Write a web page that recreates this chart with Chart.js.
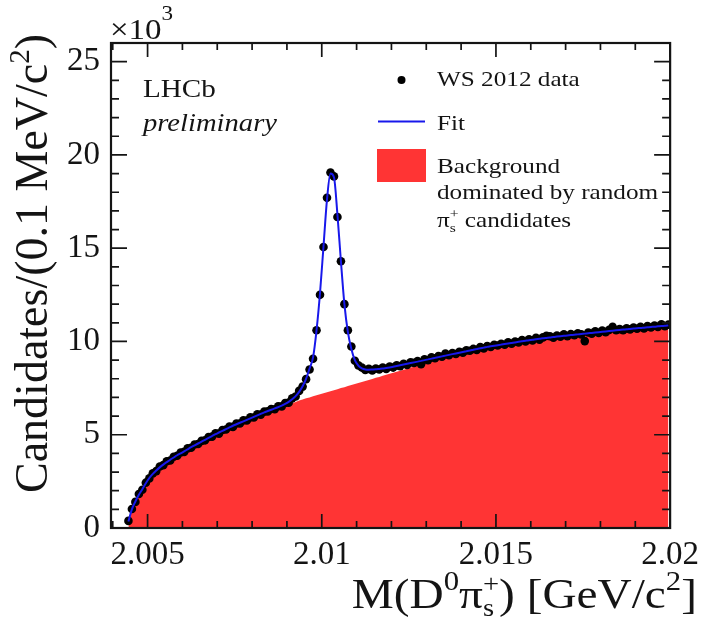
<!DOCTYPE html>
<html>
<head>
<meta charset="utf-8">
<script src="https://cdn.jsdelivr.net/npm/chart.js@4.4.1/dist/chart.umd.min.js"></script>
<style>
html, body { margin: 0; padding: 0; background: #fff; }
canvas { display: block; }
</style>
</head>
<body>
<canvas id="mass_chart" width="707" height="619"></canvas>
<script>
// histogram binning of M(D0 pi+s), GeV/c2
const binStart = 2.00445
const binWidth = 0.0001

// WS 2012 data, candidates per bin (x10^3)
const candidates = [
  0.38, 1.02, 1.40, 1.82, 2.05, 2.43, 2.66, 2.93, 3.05, 3.30,
  3.37, 3.58, 3.62, 3.82, 3.87, 4.05, 4.08, 4.27, 4.30, 4.48,
  4.50, 4.67, 4.70, 4.88, 4.90, 5.08, 5.06, 5.25, 5.28, 5.44,
  5.42, 5.60, 5.60, 5.77, 5.76, 5.93, 5.92, 6.10, 6.08, 6.24,
  6.25, 6.38, 6.37, 6.53, 6.52, 6.70, 6.72, 6.95, 7.05, 7.35,
  7.58, 7.98, 8.50, 9.07, 10.6, 12.5, 15.06, 17.7, 19.06, 18.85,
  16.67, 14.3, 12.0, 10.6, 9.73, 8.97, 8.72, 8.60, 8.47, 8.53,
  8.45, 8.55, 8.50, 8.60, 8.53, 8.66, 8.60, 8.72, 8.68, 8.80,
  8.74, 8.88, 8.85, 8.95, 8.78, 9.05, 9.00, 9.15, 9.10, 9.22,
  9.18, 9.35, 9.26, 9.38, 9.33, 9.45, 9.40, 9.52, 9.50, 9.60,
  9.55, 9.70, 9.63, 9.76, 9.70, 9.82, 9.78, 9.88, 9.82, 9.95,
  9.88, 10.0, 9.95, 10.08, 10.0, 10.12, 10.05, 10.2, 10.1, 10.22,
  10.3, 10.28, 10.2, 10.32, 10.25, 10.38, 10.28, 10.4, 10.33, 10.44,
  10.38, 10.02, 10.48, 10.42, 10.55, 10.45, 10.58, 10.5, 10.62, 10.78,
  10.6, 10.66, 10.6, 10.7, 10.65, 10.74, 10.68, 10.78, 10.7, 10.82,
  10.75, 10.85, 10.78, 10.92, 10.82, 10.9
]

// total fit
const fitCurve = [
  0.35, 1.00, 1.42, 1.78, 2.08, 2.40, 2.68, 2.90, 3.08, 3.25,
  3.40, 3.53, 3.66, 3.78, 3.90, 4.00, 4.11, 4.22, 4.33, 4.43,
  4.53, 4.63, 4.73, 4.83, 4.93, 5.03, 5.12, 5.21, 5.30, 5.39,
  5.48, 5.56, 5.64, 5.72, 5.80, 5.88, 5.96, 6.04, 6.12, 6.20,
  6.27, 6.34, 6.41, 6.48, 6.56, 6.65, 6.76, 6.90, 7.07, 7.30,
  7.60, 8.00, 8.55, 9.15, 10.6, 12.6, 15.1, 17.6, 19.0, 18.8,
  16.8, 14.3, 12.0, 10.5, 9.60, 9.00, 8.70, 8.56, 8.50, 8.49,
  8.50, 8.51, 8.53, 8.55, 8.58, 8.61, 8.64, 8.68, 8.72, 8.76,
  8.80, 8.84, 8.88, 8.92, 8.96, 9.00, 9.04, 9.08, 9.12, 9.16,
  9.20, 9.24, 9.28, 9.32, 9.36, 9.40, 9.44, 9.48, 9.52, 9.56,
  9.60, 9.64, 9.67, 9.71, 9.74, 9.77, 9.80, 9.83, 9.86, 9.89,
  9.92, 9.95, 9.98, 10.01, 10.04, 10.07, 10.09, 10.12, 10.14, 10.17,
  10.19, 10.21, 10.24, 10.26, 10.28, 10.30, 10.32, 10.34, 10.36, 10.38,
  10.40, 10.42, 10.44, 10.46, 10.48, 10.50, 10.52, 10.54, 10.56, 10.58,
  10.60, 10.62, 10.64, 10.65, 10.67, 10.69, 10.71, 10.72, 10.74, 10.76,
  10.78, 10.79, 10.81, 10.83, 10.84, 10.86
]

// background component (random pi+s)
const backgroundCurve = [
  0.30, 0.95, 1.36, 1.72, 2.02, 2.34, 2.62, 2.84, 3.02, 3.19,
  3.34, 3.47, 3.60, 3.72, 3.84, 3.95, 4.06, 4.17, 4.28, 4.38,
  4.48, 4.58, 4.68, 4.78, 4.88, 4.97, 5.06, 5.15, 5.24, 5.33,
  5.42, 5.50, 5.58, 5.66, 5.74, 5.82, 5.90, 5.98, 6.06, 6.13,
  6.20, 6.27, 6.34, 6.41, 6.48, 6.55, 6.62, 6.69, 6.76, 6.83,
  6.89, 6.95, 7.00, 7.06, 7.11, 7.17, 7.22, 7.28, 7.33, 7.39,
  7.44, 7.50, 7.55, 7.61, 7.66, 7.72, 7.77, 7.83, 7.88, 7.94,
  7.99, 8.05, 8.10, 8.16, 8.21, 8.27, 8.32, 8.38, 8.43, 8.49,
  8.54, 8.60, 8.65, 8.71, 8.76, 8.82, 8.87, 8.93, 8.98, 9.04,
  9.09, 9.15, 9.21, 9.26, 9.30, 9.34, 9.38, 9.42, 9.46, 9.50,
  9.54, 9.58, 9.61, 9.65, 9.68, 9.71, 9.74, 9.77, 9.80, 9.83,
  9.86, 9.89, 9.92, 9.95, 9.98, 10.01, 10.03, 10.06, 10.08, 10.11,
  10.13, 10.15, 10.18, 10.20, 10.22, 10.24, 10.26, 10.28, 10.30, 10.32,
  10.34, 10.36, 10.38, 10.40, 10.42, 10.44, 10.46, 10.48, 10.50, 10.52,
  10.54, 10.56, 10.58, 10.59, 10.61, 10.63, 10.65, 10.66, 10.68, 10.70,
  10.72, 10.73, 10.75, 10.77, 10.78, 10.80
]

const xTickLabels = [2.005, 2.01, 2.015, 2.02]
const xMinorTicks = [2.004, 2.006, 2.007, 2.008, 2.009, 2.011, 2.012, 2.013, 2.014, 2.016, 2.017, 2.018, 2.019]
const yTickLabels = [0, 5, 10, 15, 20, 25]
const yMinorTicks = [1, 2, 3, 4, 6, 7, 8, 9, 11, 12, 13, 14, 16, 17, 18, 19, 21, 22, 23, 24, 26]

const SERIF = '"Liberation Serif", "Times New Roman", serif'
const INK = '#141414'
const RED = 'rgb(255, 52, 52)'
const BLUE = 'rgb(24, 24, 235)'

function toPoints(values) {
    return values.map((v, i) => ({x: binStart + i * binWidth, y: v}))
}

// draws a run of text pieces; a piece may be {t}, or {sup, sub} stacked
function richText(ctx, parts, x, y, opts = {}) {
    const sx = opts.sx || 1
    ctx.save()
    ctx.translate(x, y)
    if (opts.rotate) ctx.rotate(opts.rotate)
    ctx.scale(sx, 1)
    ctx.fillStyle = INK
    ctx.textBaseline = 'alphabetic'
    ctx.textAlign = 'left'
    const widths = parts.map(p => {
        if (p.t !== undefined) {
            ctx.font = (p.italic ? 'italic ' : '') + p.size + 'px ' + SERIF
            return ctx.measureText(p.t).width
        }
        ctx.font = p.size + 'px ' + SERIF
        return Math.max(ctx.measureText(p.sup || '').width, ctx.measureText(p.sub || '').width)
    })
    const total = widths.reduce((a, b) => a + b, 0)
    let cx = opts.align === 'right' ? -total : 0
    parts.forEach((p, k) => {
        if (p.t !== undefined) {
            ctx.font = (p.italic ? 'italic ' : '') + p.size + 'px ' + SERIF
            ctx.fillText(p.t, cx, p.dy || 0)
        } else {
            ctx.font = p.size + 'px ' + SERIF
            if (p.sup) ctx.fillText(p.sup, cx, p.supDy)
            if (p.sub) ctx.fillText(p.sub, cx, p.subDy)
        }
        cx += widths[k]
    })
    ctx.restore()
}

const framePlugin = {
    id: 'frame_and_labels',
    afterDraw(chart) {
        const ctx = chart.ctx
        const a = chart.chartArea
        const xs = chart.scales.x
        const ys = chart.scales.y
        ctx.save()
        ctx.strokeStyle = INK
        ctx.lineWidth = 1.7
        ctx.beginPath()
        const tick = (x1, y1, x2, y2) => { ctx.moveTo(x1, y1); ctx.lineTo(x2, y2) }
        xTickLabels.forEach(v => {
            const px = xs.getPixelForValue(v)
            tick(px, a.bottom, px, a.bottom - 14)
            tick(px, a.top, px, a.top + 14)
        })
        xMinorTicks.forEach(v => {
            const px = xs.getPixelForValue(v)
            tick(px, a.bottom, px, a.bottom - 7)
            tick(px, a.top, px, a.top + 7)
        })
        yTickLabels.forEach(v => {
            const py = ys.getPixelForValue(v)
            tick(a.left, py, a.left + 16, py)
            tick(a.right, py, a.right - 16, py)
        })
        yMinorTicks.forEach(v => {
            const py = ys.getPixelForValue(v)
            tick(a.left, py, a.left + 8, py)
            tick(a.right, py, a.right - 8, py)
        })
        ctx.stroke()
        ctx.lineWidth = 2.2
        ctx.strokeRect(a.left, a.top, a.right - a.left, a.bottom - a.top)
        ctx.restore()

        // exponent
        richText(ctx, [{t: '\u00d710', size: 30}, {t: '3', size: 21, dy: -19}], 110, 39, {sx: 1.1})

        // axis titles
        richText(ctx, [
            {t: 'M', size: 43}, {t: '(', size: 43}, {t: 'D', size: 43}, {t: '0', size: 28, dy: -18},
            {t: '\u03c0', size: 43}, {sup: '+', sub: 's', size: 26, supDy: -16, subDy: 8},
            {t: ') [GeV/c', size: 43}, {t: '2', size: 28, dy: -18}, {t: ']', size: 43}
        ], 697, 608, {sx: 1.1, align: 'right'})
        richText(ctx, [
            {t: 'Candidates/(0.1 MeV/c', size: 46}, {t: '2', size: 29, dy: -18}, {t: ')', size: 46}
        ], 47, 493, {rotate: -Math.PI / 2})

        // LHCb label
        richText(ctx, [{t: 'LHCb', size: 26}], 143, 97, {sx: 1.12})
        richText(ctx, [{t: 'preliminary', size: 26, italic: true}], 143, 131, {sx: 1.1})

        // legend
        ctx.save()
        ctx.fillStyle = '#000'
        ctx.beginPath()
        ctx.arc(401.5, 80, 4, 0, Math.PI * 2)
        ctx.fill()
        ctx.strokeStyle = BLUE
        ctx.lineWidth = 2
        ctx.beginPath()
        ctx.moveTo(378, 121.5)
        ctx.lineTo(425, 121.5)
        ctx.stroke()
        ctx.fillStyle = RED
        ctx.fillRect(377, 149, 49, 33)
        ctx.restore()
        const ls = 21
        richText(ctx, [{t: 'WS 2012 data', size: ls}], 437, 86, {sx: 1.2})
        richText(ctx, [{t: 'Fit', size: ls}], 437, 130, {sx: 1.2})
        richText(ctx, [{t: 'Background', size: ls}], 437, 173, {sx: 1.2})
        richText(ctx, [{t: 'dominated by random', size: ls}], 437, 199, {sx: 1.2})
        richText(ctx, [
            {t: '\u03c0', size: ls}, {sup: '+', sub: 's', size: 13, supDy: -9, subDy: 5},
            {t: ' candidates', size: ls}
        ], 437, 227, {sx: 1.2})
    }
}

const tickFont = {family: SERIF, size: 33}

new Chart(document.getElementById('mass_chart'), {
    type: 'line',
    data: {
        datasets: [
            {
                label: 'Fit',
                data: toPoints(fitCurve),
                borderColor: BLUE,
                borderWidth: 2,
                pointRadius: 0,
                cubicInterpolationMode: 'monotone',
                fill: false,
                order: 1
            },
            {
                label: 'WS 2012 data',
                data: toPoints(candidates),
                showLine: false,
                pointRadius: 4.3,
                pointBackgroundColor: '#000',
                pointBorderWidth: 0,
                order: 2
            },
            {
                label: 'Background',
                data: toPoints(backgroundCurve),
                borderWidth: 0,
                borderColor: RED,
                backgroundColor: RED,
                pointRadius: 0,
                fill: 'origin',
                order: 3
            }
        ]
    },
    options: {
        responsive: false,
        devicePixelRatio: 1,
        animation: false,
        events: [],
        layout: {padding: {top: 43, right: 35, left: 0, bottom: 0}},
        plugins: {legend: {display: false}, tooltip: {enabled: false}},
        scales: {
            x: {
                type: 'linear',
                min: 2.00395,
                max: 2.02,
                grid: {display: false, drawTicks: false},
                border: {display: false},
                afterBuildTicks: s => { s.ticks = xTickLabels.map(v => ({value: v})) },
                afterFit: s => { s.height = 91 },
                ticks: {font: tickFont, color: INK, padding: 8, maxRotation: 0, autoSkip: false,
                    callback: v => String(v)}
            },
            y: {
                min: 0,
                max: 26,
                grid: {display: false, drawTicks: false},
                border: {display: false},
                afterBuildTicks: s => { s.ticks = yTickLabels.map(v => ({value: v})) },
                afterFit: s => { s.width = 111 },
                ticks: {font: tickFont, color: INK, padding: 11, callback: v => String(v)}
            }
        }
    },
    plugins: [framePlugin]
})
</script>
</body>
</html>
